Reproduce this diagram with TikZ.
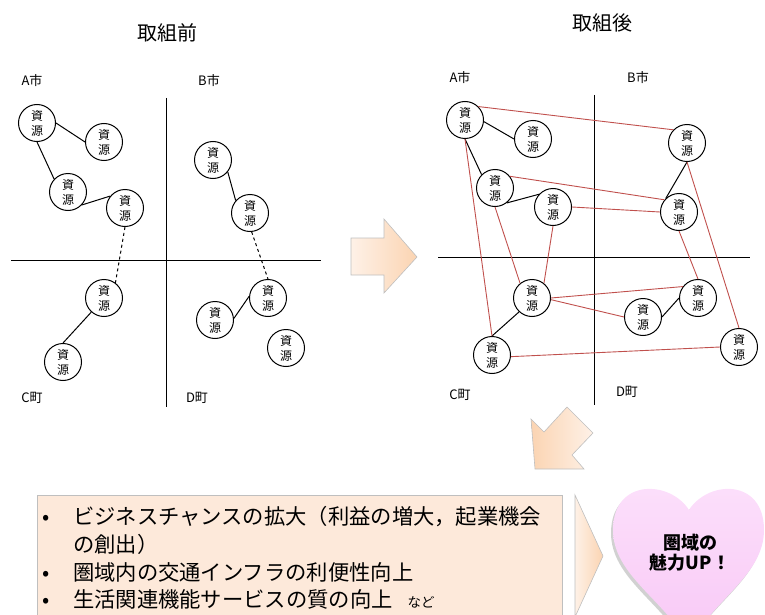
\documentclass[tikz,border=0pt]{standalone}
\usepackage{fontspec}
\setmainfont{Noto Sans CJK JP}
\usetikzlibrary{positioning}
\definecolor{linkred}{RGB}{192,80,77}
\definecolor{peachlight}{RGB}{254,241,231}
\definecolor{peachdark}{RGB}{251,212,178}
\definecolor{boxfill}{RGB}{253,233,218}
\definecolor{boxline}{RGB}{191,191,191}
\definecolor{heartpink}{RGB}{248,200,246}
\definecolor{heartlight}{RGB}{252,224,251}
\newcommand{\heartpath}{(689,510) .. controls (670,480) and (613,478) .. (613,530) .. controls (613,575) and (665,600) .. (689,645) .. controls (713,600) and (764,575) .. (764,530) .. controls (764,478) and (708,480) .. (689,510) -- cycle}

\begin{document}
\begin{tikzpicture}[x=1pt,y=-1pt,
  res/.style={circle,draw,line width=1pt,minimum size=37pt,inner sep=0pt,align=center,font=\fontsize{12}{15}\selectfont},
  area/.style={font=\fontsize{13}{15}\selectfont},
  title/.style={font=\fontsize{20}{22}\selectfont},
  link/.style={line width=1pt},
  redlink/.style={linkred,line width=0.9pt},
  axis/.style={line width=1pt},
  blockarrow/.style={draw=boxline,line width=0.6pt,left color=peachlight,right color=peachdark}]
\useasboundingbox (0,0) rectangle (765,615);
\clip (0,0) rectangle (765,615);

% titles
\node[title] (before) at (167,33) {取組前};
\node[title] (after) at (602,23) {取組後};

% before
\draw[axis] (166,98) -- (166,407);
\draw[axis] (11,260) -- (321,260);
\node[area] (preA) at (32,81) {A市};
\node[area] (preB) at (209,81) {B市};
\node[area] (preC) at (32,398) {C町};
\node[area] (preD) at (197,398) {D町};
\node[res] (preA1) at (37,123) {資\\源};
\node[res] (preA2) at (104,142) {資\\源};
\node[res] (preA3) at (68,192) {資\\源};
\node[res] (preA4) at (125,208) {資\\源};
\node[res] (preB1) at (213,160) {資\\源};
\node[res] (preB2) at (250,213) {資\\源};
\node[res] (preC1) at (104,298) {資\\源};
\node[res] (preC2) at (63,362) {資\\源};
\node[res] (preD1) at (268,298) {資\\源};
\node[res] (preD2) at (215,320) {資\\源};
\node[res] (preD3) at (286,348) {資\\源};
\draw[link] (preA1.0) -- (preA2.180);
\draw[link] (preA1.270) -- (preA3.137);
\draw[link] (preA3.317) -- (preA4.141);
\draw[link,dashed] (preA4.270) -- (preC1.53);
\draw[link] (preC1.228) -- (preC2.90);
\draw[link] (preB1.321) -- (preB2.139);
\draw[link,dashed] (preB2.275) -- (preD1.90);
\draw[link] (preD1.175) -- (preD2.5);

% arrow to the right
\draw[blockarrow] (351,238) -- (384,238) -- (384,219) -- (417,257) -- (384,293) -- (384,275) -- (351,275) -- cycle;

% after
\draw[axis] (594,95) -- (594,405);
\draw[axis] (438,257) -- (750,257);
\node[area] (postA) at (460,78) {A市};
\node[area] (postB) at (638,78) {B市};
\node[area] (postC) at (460,395) {C町};
\node[area] (postD) at (627,392) {D町};
\node[res] (postA1) at (465,120) {資\\源};
\node[res] (postA2) at (533,139) {資\\源};
\node[res] (postA3) at (495,188) {資\\源};
\node[res] (postA4) at (553,207) {資\\源};
\node[res] (postB1) at (687,143) {資\\源};
\node[res] (postB2) at (679,212) {資\\源};
\node[res] (postC1) at (532,298) {資\\源};
\node[res] (postC2) at (492,355) {資\\源};
\node[res] (postD1) at (698,298) {資\\源};
\node[res] (postD2) at (643,317) {資\\源};
\node[res] (postD3) at (739,347) {資\\源};
\draw[link] (postA1.355) -- (postA2.180);
\draw[link] (postA1.270) -- (postA3.135);
\draw[link] (postA3.308) -- (postA4.138);
\draw[link] (postC1.227) -- (postC2.90);
\draw[link] (postB1.270) -- (postB2.134);
\draw[link] (postD1.180) -- (postD2.0);
\draw[redlink] (postA1.45) -- (postB1.136);
\draw[redlink] (postA1.270) -- (postC2.90);
\draw[redlink] (postA3.38) -- (postB2.140);
\draw[redlink] (postA3.270) -- (postC1.129);
\draw[redlink] (postA4.0) -- (postB2.180);
\draw[redlink] (postA4.270) -- (postC1.51);
\draw[redlink] (postB2.270) -- (postD1.90);
\draw[redlink] (postB1.270) -- (postD3.90);
\draw[redlink] (postC1.0) -- (postD1.143);
\draw[redlink] (postC1.355) -- (postD2.180);
\draw[redlink] (postC2.355) -- (postD3.180);

% arrow down-left
\draw[draw=boxline,line width=0.6pt,shading=axis,shading angle=45,left color=peachdark,right color=peachlight] (567,407) -- (593,433) -- (572,455) -- (584,469) -- (535,469) -- (531,419) -- (544,432) -- cycle;

% effects
\draw[draw=boxline,line width=0.8pt,fill=boxfill] (37,495) rectangle (562,630);
\node[anchor=west,align=left,inner sep=0pt,font=\fontsize{21.3}{27.8}\selectfont] (merits) at (42,558)
  {\makebox[31pt][l]{•}ビジネスチャンスの拡大（利益の増大，起業機会\\
   \makebox[31pt][l]{}の創出）\\
   \makebox[31pt][l]{•}圏域内の交通インフラの利便性向上\\
   \makebox[31pt][l]{•}生活関連機能サービスの質の向上\hspace{15pt}{\fontsize{13.5}{15}\selectfont など}};
\draw[blockarrow] (575,495) -- (603,556) -- (575,617) -- cycle;

% heart
\fill[black,opacity=0.18,xshift=-2pt,yshift=-3pt] \heartpath;
\shade[top color=heartlight,bottom color=heartpink] \heartpath;
\node[font=\bfseries\fontsize{18}{20}\selectfont,align=center] (charm) at (690,553) {圏域の\\魅力UP！};
\end{tikzpicture}
\end{document}
